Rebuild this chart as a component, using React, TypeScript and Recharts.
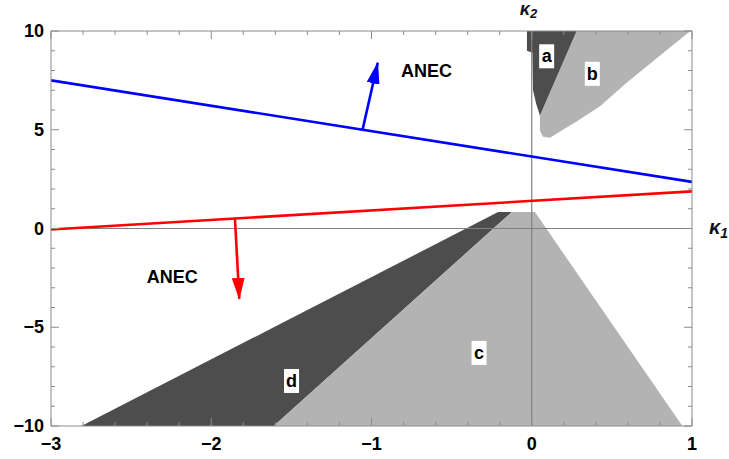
import { ComposedChart, XAxis, YAxis, Area, Line, Scatter, ReferenceLine } from 'recharts';

const xTicks = [-3, -2.8, -2.6, -2.4, -2.2, -2, -1.8, -1.6, -1.4, -1.2, -1, -0.8, -0.6, -0.4, -0.2, 0, 0.2, 0.4, 0.6, 0.8, 1];
const xMajor = [-3, -2, -1, 0, 1];
const yTicks = [-10, -9, -8, -7, -6, -5, -4, -3, -2, -1, 0, 1, 2, 3, 4, 5, 6, 7, 8, 9, 10];
const yMajor = [-10, -5, 0, 5, 10];

// shaded regions, [low, high] per x
const regionA = [
  { x: -0.03, v: [9.0, 10] },
  { x: 0.004, v: [8.9, 10] },
  { x: 0.008, v: [7.0, 10] },
  { x: 0.028, v: [6.3, 10] },
  { x: 0.051, v: [5.72, 10] },
  { x: 0.28, v: [10, 10] },
];
const regionB = [
  { x: 0.051, v: [4.95, 5.72] },
  { x: 0.07, v: [4.65, 6.07] },
  { x: 0.114, v: [4.59, 6.9] },
  { x: 0.197, v: [5.01, 8.45] },
  { x: 0.28, v: [5.42, 10] },
  { x: 0.426, v: [6.19, 10] },
  { x: 0.592, v: [7.38, 10] },
  { x: 0.77, v: [8.56, 10] },
  { x: 0.99, v: [10, 10] },
];
const regionC = [
  { x: -1.61, v: [-10, -10] },
  { x: -0.125, v: [-10, 0.83] },
  { x: 0.02, v: [-10, 0.83] },
  { x: 0.94, v: [-10, -10] },
];
const regionD = [
  { x: -2.81, v: [-10, -10] },
  { x: -1.61, v: [-10, -5.0] },
  { x: -0.21, v: [0.21, 0.83] },
  { x: -0.125, v: [0.83, 0.83] },
];

const blueLine = [{ x: -3, y: 7.5 }, { x: 1, y: 2.36 }];
const redLine = [{ x: -3, y: -0.05 }, { x: 1, y: 1.88 }];
const blueArrow = [{ x: -1.055, y: 5.03 }, { x: -0.961, y: 8.39 }];
const redArrow = [{ x: -1.852, y: 0.5 }, { x: -1.825, y: -3.56 }];

const boxLabels = [
  { x: 0.093, y: 8.72, label: 'a' },
  { x: 0.378, y: 7.83, label: 'b' },
  { x: -0.329, y: -6.3, label: 'c' },
  { x: -1.499, y: -7.72, label: 'd' },
];
const anecLabels = [
  { x: -0.656, y: 7.95, label: 'ANEC' },
  { x: -2.243, y: -2.45, label: 'ANEC' },
];

const FONT = "Arial, 'Liberation Sans', sans-serif";
const FRAME = '#8c8c8c';
const DARK = '#4d4d4d';
const LIGHT = '#b3b3b3';

const fmt = (v: number) => (v < 0 ? '\u2212' + Math.abs(v) : String(v));

const BottomTick = (props: any) => {
  const { x, y, payload } = props;
  const major = xMajor.includes(payload.value);
  return (
    <g>
      <line x1={x} x2={x} y1={y} y2={y - (major ? 8 : 4)} stroke={FRAME} />
      {major && (
        <text x={x} y={y + 18} textAnchor="middle" dominantBaseline="central" fontFamily={FONT} fontWeight="bold" fontSize={18} fill="#000">
          {fmt(payload.value)}
        </text>
      )}
    </g>
  );
};

const TopTick = (props: any) => {
  const { x, y, payload } = props;
  const major = xMajor.includes(payload.value);
  return <line x1={x} x2={x} y1={y} y2={y + (major ? 8 : 4)} stroke={FRAME} />;
};

const LeftTick = (props: any) => {
  const { x, y, payload } = props;
  const major = yMajor.includes(payload.value);
  return (
    <g>
      <line x1={x} x2={x + (major ? 8 : 4)} y1={y} y2={y} stroke={FRAME} />
      {major && (
        <text x={x - 7} y={y} textAnchor="end" dominantBaseline="central" fontFamily={FONT} fontWeight="bold" fontSize={18} fill="#000">
          {fmt(payload.value)}
        </text>
      )}
    </g>
  );
};

const RightTick = (props: any) => {
  const { x, y, payload } = props;
  const major = yMajor.includes(payload.value);
  return <line x1={x} x2={x - (major ? 8 : 4)} y1={y} y2={y} stroke={FRAME} />;
};

const BoxLabel = (props: any) => {
  const { cx, cy, payload } = props;
  return (
    <g>
      <rect x={cx - 7.5} y={cy - 12} width={15} height={24} fill="#fff" />
      <text x={cx} y={cy} textAnchor="middle" dominantBaseline="central" fontFamily={FONT} fontWeight="bold" fontSize={18} fill="#000">
        {payload.label}
      </text>
    </g>
  );
};

const PlainLabel = (props: any) => {
  const { cx, cy, payload } = props;
  return (
    <text x={cx} y={cy} textAnchor="middle" dominantBaseline="central" fontFamily={FONT} fontWeight="bold" fontSize={18} fill="#000">
      {payload.label}
    </text>
  );
};

const Kappa1 = ({ viewBox }: any) => (
  <text x={viewBox.x + viewBox.width + 17} y={viewBox.y + 5} fontFamily={FONT} fontWeight="bold" fontStyle="italic" fontSize={20} fill="#111122">
    κ<tspan fontSize={14} dy={4}>1</tspan>
  </text>
);

const Kappa2 = ({ viewBox }: any) => (
  <text x={viewBox.x - 12} y={viewBox.y - 16} fontFamily={FONT} fontWeight="bold" fontStyle="italic" fontSize={18} fill="#111122">
    κ<tspan fontSize={13} dy={3}>2</tspan>
  </text>
);

export default function App() {
  const axisCommon = {
    type: 'number' as const,
    allowDataOverflow: true,
    interval: 0 as const,
    tickSize: 0,
    tickMargin: 0,
    tickLine: false,
    axisLine: { stroke: FRAME },
  };

  return (
    <div style={{ position: 'absolute', left: 0, top: 0, width: 729, height: 459, background: '#fff' }}>
      <svg width={0} height={0} style={{ position: 'absolute' }}>
        <defs>
          <marker id="headBlue" viewBox="0 0 22 13" refX={21} refY={6.5} markerWidth={22} markerHeight={13} markerUnits="userSpaceOnUse" orient="auto">
            <path d="M0,0 L22,6.5 L0,13 z" fill="#0000ff" />
          </marker>
          <marker id="headRed" viewBox="0 0 22 13" refX={21} refY={6.5} markerWidth={22} markerHeight={13} markerUnits="userSpaceOnUse" orient="auto">
            <path d="M0,0 L22,6.5 L0,13 z" fill="#ff0000" />
          </marker>
        </defs>
      </svg>
      <ComposedChart width={729} height={459} margin={{ top: 30, right: 36, bottom: 32, left: 50 }}>
        <XAxis xAxisId="b" dataKey="x" domain={[-3, 1]} ticks={xTicks} height={1} tick={<BottomTick />} {...axisCommon} />
        <XAxis xAxisId="t" dataKey="x" orientation="top" domain={[-3, 1]} ticks={xTicks} height={1} tick={<TopTick />} {...axisCommon} />
        <YAxis yAxisId="l" dataKey="y" domain={[-10, 10]} ticks={yTicks} width={1} tick={<LeftTick />} {...axisCommon} />
        <YAxis yAxisId="r" dataKey="y" orientation="right" domain={[-10, 10]} ticks={yTicks} width={1} tick={<RightTick />} {...axisCommon} />

        <Area xAxisId="b" yAxisId="l" data={regionD} dataKey="v" type="linear" fill={DARK} fillOpacity={1} stroke="none" dot={false} activeDot={false} isAnimationActive={false} />
        <Area xAxisId="b" yAxisId="l" data={regionC} dataKey="v" type="linear" fill={LIGHT} fillOpacity={1} stroke="none" dot={false} activeDot={false} isAnimationActive={false} />
        <Area xAxisId="b" yAxisId="l" data={regionB} dataKey="v" type="linear" fill={LIGHT} fillOpacity={1} stroke="none" dot={false} activeDot={false} isAnimationActive={false} />
        <Area xAxisId="b" yAxisId="l" data={regionA} dataKey="v" type="linear" fill={DARK} fillOpacity={1} stroke="none" dot={false} activeDot={false} isAnimationActive={false} />

        <ReferenceLine xAxisId="b" yAxisId="l" y={0} stroke="#808080" strokeWidth={1.2} label={<Kappa1 />} />
        <ReferenceLine xAxisId="b" yAxisId="l" x={0} stroke="#808080" strokeWidth={1.2} label={<Kappa2 />} />

        <Line xAxisId="t" yAxisId="r" data={blueLine} dataKey="y" stroke="none" dot={false} activeDot={false} isAnimationActive={false} />
        <Line xAxisId="b" yAxisId="l" data={blueLine} dataKey="y" type="linear" stroke="#0000ff" strokeWidth={2.6} dot={false} activeDot={false} isAnimationActive={false} />
        <Line xAxisId="b" yAxisId="l" data={redLine} dataKey="y" type="linear" stroke="#ff0000" strokeWidth={2.6} dot={false} activeDot={false} isAnimationActive={false} />
        <Line xAxisId="b" yAxisId="l" data={blueArrow} dataKey="y" type="linear" stroke="#0000ff" strokeWidth={2.6} dot={false} activeDot={false} markerEnd="url(#headBlue)" isAnimationActive={false} />
        <Line xAxisId="b" yAxisId="l" data={redArrow} dataKey="y" type="linear" stroke="#ff0000" strokeWidth={2.6} dot={false} activeDot={false} markerEnd="url(#headRed)" isAnimationActive={false} />

        <Scatter xAxisId="b" yAxisId="l" data={boxLabels} dataKey="y" shape={<BoxLabel />} isAnimationActive={false} />
        <Scatter xAxisId="b" yAxisId="l" data={anecLabels} dataKey="y" shape={<PlainLabel />} isAnimationActive={false} />
      </ComposedChart>
    </div>
  );
}
